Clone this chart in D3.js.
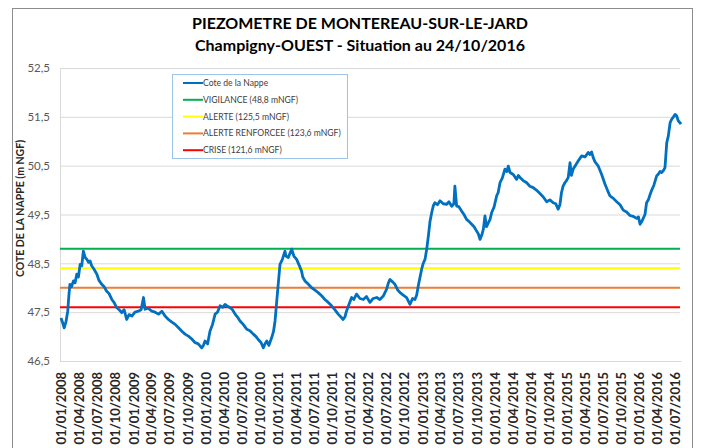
<!DOCTYPE html>
<html>
<head>
<meta charset="utf-8">
<script src="https://cdn.jsdelivr.net/npm/d3@7"></script>
<style>
  body { margin: 0; background: #fff; }
  svg { display: block; font-family: Lato, "Open Sans", sans-serif; }
</style>
</head>
<body>
<div id="chart"></div>
<script>
// chart values
var titleLines = ["PIEZOMETRE DE MONTEREAU-SUR-LE-JARD", "Champigny-OUEST - Situation au 24/10/2016"]
var yTitle = "COTE DE LA NAPPE (m NGF)"
var yTicks = [46.5, 47.5, 48.5, 49.5, 50.5, 51.5, 52.5]

var seriesName = "Cote de la Nappe"
var thresholdLabels = ["VIGILANCE (48,8 mNGF)", "ALERTE (125,5 mNGF)", "ALERTE RENFORCEE (123,6 mNGF)", "CRISE (121,6 mNGF)"]
var thresholdValues = [48.8, 48.4, 48.0, 47.6]
var thresholdColors = ["#00b050", "#ffff00", "#ed7d31", "#ff0000"]

var dates = [
"2008-01-01","2008-01-08","2008-01-17","2008-01-26","2008-02-04","2008-02-10","2008-02-15","2008-02-23","2008-03-04","2008-03-12",
"2008-03-21","2008-03-29","2008-04-07","2008-04-15","2008-04-23","2008-05-02","2008-05-11","2008-05-19","2008-05-27","2008-06-04",
"2008-06-16","2008-06-30","2008-07-11","2008-07-25","2008-08-06","2008-08-19","2008-08-31","2008-09-14","2008-09-25","2008-10-09",
"2008-10-21","2008-11-03","2008-11-15","2008-11-28","2008-12-10","2008-12-24","2009-01-09","2009-01-26","2009-02-09","2009-02-21",
"2009-03-01","2009-03-16","2009-04-04","2009-04-21","2009-05-08","2009-05-25","2009-06-10","2009-06-27","2009-07-13","2009-07-31",
"2009-08-17","2009-09-03","2009-09-19","2009-10-06","2009-10-23","2009-11-08","2009-11-25","2009-12-12","2009-12-21","2009-12-29",
"2010-01-11","2010-01-23","2010-02-05","2010-02-18","2010-03-02","2010-03-15","2010-03-28","2010-04-09","2010-04-22","2010-05-05",
"2010-05-17","2010-05-30","2010-06-11","2010-06-24","2010-07-10","2010-07-28","2010-08-13","2010-08-30","2010-09-13","2010-09-24",
"2010-10-08","2010-10-20","2010-10-28","2010-11-06","2010-11-17","2010-12-01","2010-12-10","2010-12-18","2010-12-26","2011-01-03",
"2011-01-12","2011-01-24","2011-02-06","2011-02-11","2011-02-23","2011-03-03","2011-03-12","2011-03-23","2011-04-06","2011-04-17",
"2011-05-01","2011-05-07","2011-05-18","2011-06-02","2011-06-21","2011-07-08","2011-07-24","2011-08-09","2011-08-27","2011-09-13",
"2011-09-30","2011-10-16","2011-11-02","2011-11-16","2011-11-27","2011-12-06","2011-12-14","2011-12-26","2012-01-09","2012-01-20",
"2012-02-03","2012-02-20","2012-03-08","2012-03-24","2012-04-11","2012-04-27","2012-05-15","2012-05-31","2012-06-17","2012-07-04",
"2012-07-13","2012-07-21","2012-08-03","2012-08-15","2012-08-28","2012-09-10","2012-09-26","2012-10-13","2012-10-30","2012-11-12",
"2012-11-24","2012-12-03","2012-12-11","2012-12-19","2012-12-28","2013-01-05","2013-01-14","2013-01-23","2013-01-31","2013-02-08",
"2013-02-17","2013-02-25","2013-03-05","2013-03-18","2013-03-31","2013-04-16","2013-05-04","2013-05-15","2013-05-29","2013-06-09",
"2013-06-14","2013-06-23","2013-07-04","2013-07-18","2013-07-30","2013-08-12","2013-08-24","2013-09-07","2013-09-19","2013-10-02",
"2013-10-11","2013-10-19","2013-10-28","2013-11-05","2013-11-13","2013-11-21","2013-11-30","2013-12-09","2013-12-17","2013-12-29",
"2014-01-11","2014-01-19","2014-01-28","2014-02-09","2014-02-22","2014-03-04","2014-03-11","2014-03-20","2014-04-05","2014-04-22",
"2014-05-01","2014-05-09","2014-05-24","2014-06-12","2014-06-28","2014-07-15","2014-07-31","2014-08-18","2014-09-04","2014-09-21",
"2014-10-07","2014-10-24","2014-11-06","2014-11-18","2014-11-27","2014-12-05","2014-12-13","2014-12-22","2014-12-31","2015-01-08",
"2015-01-17","2015-01-24","2015-02-02","2015-02-11","2015-02-28","2015-03-17","2015-04-03","2015-04-19","2015-04-28","2015-05-06",
"2015-05-14","2015-05-23","2015-06-09","2015-06-25","2015-07-13","2015-07-25","2015-08-07","2015-08-24","2015-09-10","2015-09-27",
"2015-10-13","2015-10-30","2015-11-16","2015-12-03","2015-12-20","2015-12-29","2016-01-06","2016-01-14","2016-01-22","2016-01-31",
"2016-02-08","2016-02-17","2016-02-25","2016-03-05","2016-03-16","2016-03-30","2016-04-08","2016-04-16","2016-04-24","2016-05-03",
"2016-05-11","2016-05-20","2016-05-28","2016-06-06","2016-06-14","2016-06-23","2016-07-01","2016-07-09","2016-07-17","2016-07-26",
"2016-07-31"]

var levels = [
47.38,47.30,47.18,47.30,47.52,47.85,48.07,48.02,48.14,48.10,
48.28,48.22,48.48,48.45,48.75,48.62,48.58,48.52,48.55,48.45,
48.38,48.28,48.15,48.07,48.02,47.93,47.88,47.76,47.70,47.59,
47.55,47.49,47.55,47.35,47.45,47.42,47.50,47.52,47.55,47.80,
47.56,47.58,47.52,47.50,47.46,47.52,47.42,47.35,47.30,47.25,
47.18,47.11,47.05,47.01,46.95,46.88,46.85,46.77,46.82,46.91,
46.85,47.11,47.25,47.46,47.50,47.63,47.60,47.66,47.62,47.59,
47.55,47.46,47.40,47.32,47.25,47.15,47.12,47.05,47.00,46.94,
46.88,46.77,46.85,46.91,46.82,46.98,47.10,47.32,47.70,48.07,
48.48,48.58,48.75,48.65,48.62,48.70,48.79,48.65,48.58,48.48,
48.34,48.22,48.14,48.08,48.00,47.95,47.90,47.84,47.76,47.70,
47.63,47.55,47.46,47.40,47.35,47.40,47.52,47.65,47.80,47.76,
47.87,47.78,47.76,47.82,47.70,47.78,47.80,47.76,47.83,47.97,
48.10,48.17,48.12,48.07,47.96,47.90,47.85,47.80,47.66,47.78,
47.76,47.85,48.04,48.20,48.38,48.50,48.58,48.80,49.06,49.35,
49.54,49.68,49.74,49.70,49.78,49.72,49.71,49.76,49.67,49.72,
50.08,49.67,49.66,49.57,49.50,49.40,49.36,49.30,49.25,49.16,
49.10,48.99,49.08,49.20,49.47,49.25,49.33,49.40,49.54,49.65,
49.88,49.95,50.15,50.25,50.43,50.38,50.49,50.36,50.32,50.22,
50.30,50.26,50.20,50.15,50.08,50.05,50.00,49.93,49.86,49.76,
49.80,49.74,49.72,49.61,49.70,49.95,50.08,50.15,50.20,50.26,
50.56,50.30,50.43,50.49,50.60,50.70,50.68,50.77,50.73,50.78,
50.67,50.58,50.49,50.33,50.12,50.00,49.88,49.83,49.76,49.70,
49.59,49.55,49.48,49.46,49.42,49.45,49.30,49.35,49.42,49.50,
49.74,49.80,49.90,50.00,50.10,50.29,50.33,50.38,50.36,50.40,
50.46,50.97,51.11,51.38,51.45,51.50,51.55,51.52,51.42,51.38,
51.35]

var width = 702, height = 448
var plotLeft = 60, plotRight = 680, plotTop = 68, plotBottom = 361

var parseDate = d3.timeParse("%Y-%m-%d")
var points = dates.map(function(d, i) { return {date: parseDate(d), value: levels[i]} })

var fr = d3.formatLocale({decimal: ",", thousands: " ", grouping: [3], currency: ["", " €"]})
var fmtY = fr.format(".1f")
var fmtX = d3.timeFormat("%d/%m/%Y")

var svg = d3.select("#chart").append("svg")
    .attr("width", width)
    .attr("height", height)

// outer chart frame (bottom is cut off in the picture)
svg.append("rect")
    .attr("x", 12.5).attr("y", 8.5)
    .attr("width", 680).attr("height", 460)
    .attr("fill", "#fff")
    .attr("stroke", "#8c8c8c")
    .attr("stroke-width", 1)

var x = d3.scaleTime()
    .domain([parseDate("2008-01-01"), parseDate("2016-07-31")])
    .range([plotLeft + 1, plotRight + 1])

var y = d3.scaleLinear()
    .domain([46.5, 52.5])
    .range([plotBottom, plotTop])

// title
svg.selectAll("text.title").data(titleLines).enter().append("text")
    .attr("class", "title")
    .attr("x", 360)
    .attr("y", function(d, i) { return 29 + i * 22 })
    .attr("text-anchor", "middle")
    .attr("font-size", 16)
    .attr("font-weight", "bold")
    .attr("fill", "#000")
    .text(function(d) { return d })

// y axis with horizontal gridlines
var yAxis = d3.axisLeft(y)
    .tickValues(yTicks)
    .tickSize(-(plotRight - plotLeft))
    .tickPadding(10)
    .tickFormat(fmtY)

var gy = svg.append("g")
    .attr("transform", "translate(" + plotLeft + ",0)")
    .call(yAxis)
gy.select(".domain").attr("stroke", "#d9d9d9")
gy.selectAll(".tick line").attr("stroke", "#d9d9d9")
gy.selectAll(".tick text")
    .attr("fill", "#595959")
    .attr("font-size", 11.5)
    .attr("font-family", "Lato, sans-serif")

svg.append("text")
    .attr("transform", "translate(24," + ((plotTop + plotBottom) / 2 - 6) + ") rotate(-90)")
    .attr("text-anchor", "middle")
    .attr("font-size", 10.5)
    .attr("font-weight", "bold")
    .attr("fill", "#262626")
    .text(yTitle)

// x axis, one label per quarter
var xAxis = d3.axisBottom(x)
    .ticks(d3.timeMonth.every(3))
    .tickSize(0)
    .tickPadding(0)
    .tickFormat(fmtX)

var gx = svg.append("g")
    .attr("transform", "translate(0," + plotBottom + ")")
    .call(xAxis)
gx.select(".domain").attr("stroke", "#d9d9d9")
gx.selectAll(".tick text")
    .attr("transform", "rotate(-90)")
    .attr("text-anchor", "end")
    .attr("x", -11)
    .attr("y", 0)
    .attr("dy", "0.36em")
    .attr("font-size", 13)
    .attr("font-weight", "bold")
    .attr("font-family", "Lato, sans-serif")
    .attr("fill", "#262626")

// threshold lines
svg.selectAll("line.threshold").data(thresholdValues).enter().append("line")
    .attr("class", "threshold")
    .attr("x1", plotLeft).attr("x2", plotRight)
    .attr("y1", function(d) { return y(d) })
    .attr("y2", function(d) { return y(d) })
    .attr("stroke", function(d, i) { return thresholdColors[i] })
    .attr("stroke-width", 2)

// groundwater level
var line = d3.line()
    .x(function(d) { return x(d.date) })
    .y(function(d) { return y(d.value) })

svg.append("path")
    .datum(points)
    .attr("d", line)
    .attr("fill", "none")
    .attr("stroke", "#0070c0")
    .attr("stroke-width", 2.8)
    .attr("stroke-linejoin", "round")

// legend
var legendNames = [seriesName].concat(thresholdLabels)
var legendColors = ["#0070c0"].concat(thresholdColors)

var lg = svg.append("g").attr("transform", "translate(172,74)")
lg.append("rect")
    .attr("x", 0.5).attr("y", 0.5)
    .attr("width", 175).attr("height", 84)
    .attr("fill", "#fff")
    .attr("stroke", "#9dc3e6")

var items = lg.selectAll("g.item").data(legendNames).enter().append("g")
    .attr("class", "item")
    .attr("transform", function(d, i) { return "translate(0," + (9 + i * 16.8) + ")" })

items.append("line")
    .attr("x1", 11).attr("x2", 31)
    .attr("stroke", function(d, i) { return legendColors[i] })
    .attr("stroke-width", 2)

items.append("text")
    .attr("x", 31)
    .attr("dy", "0.35em")
    .attr("font-size", 8.6)
    .attr("fill", "#404040")
    .text(function(d) { return d })
</script>
</body>
</html>
